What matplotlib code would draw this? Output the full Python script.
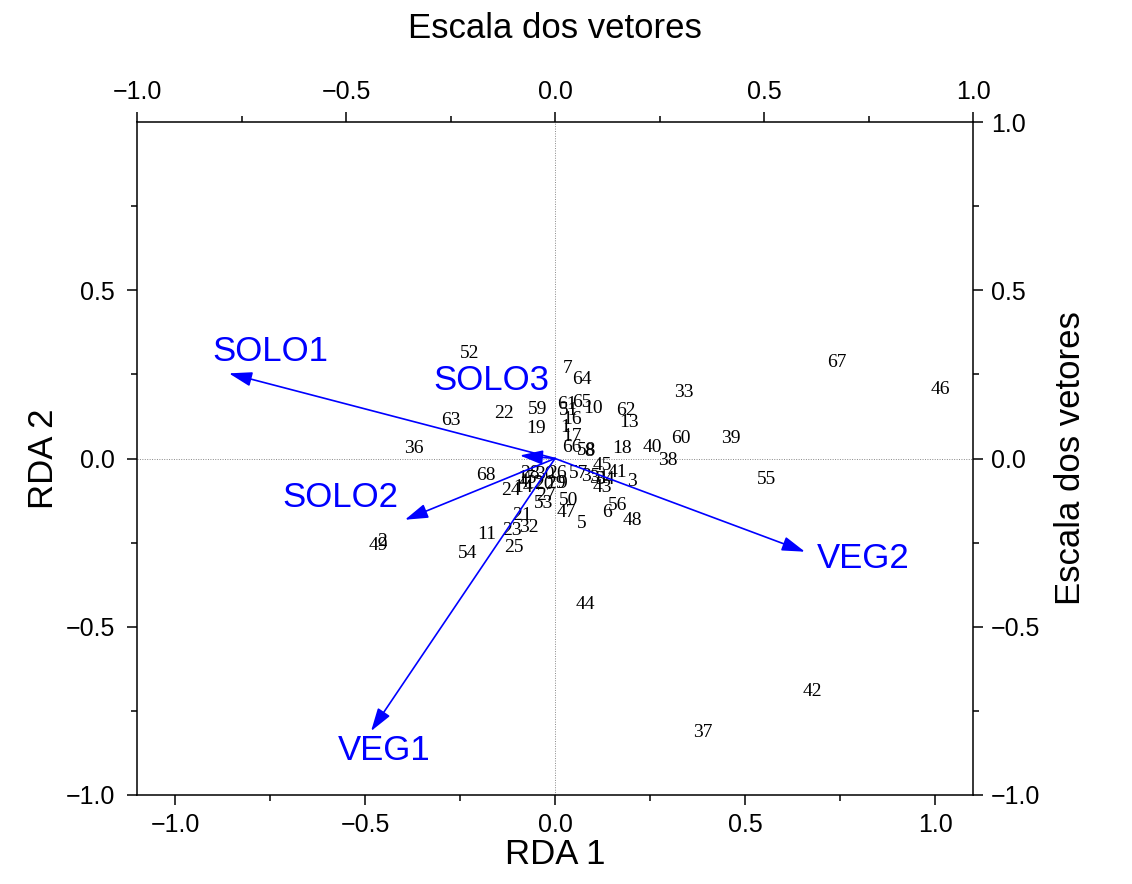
import matplotlib
matplotlib.use("Agg")
import matplotlib.pyplot as plt
from matplotlib.ticker import FixedLocator

# ---- data: sample scores (RDA 1, RDA 2) ----
sample_ids = [1, 2, 3, 5, 6, 7, 10, 11, 13, 16, 17, 18, 19, 21, 22, 23, 24, 25,
              26, 27, 29, 32, 33, 36, 37, 38, 39, 40, 41, 42, 43, 44, 45, 46,
              47, 48, 49, 50, 51, 52, 53, 54, 55, 56, 57, 58, 59, 60, 61, 62,
              63, 64, 65, 66, 67, 68, 4, 12, 20, 28, 30, 15, 9, 8, 14, 31, 34, 35]
rda1 = [0.026, -0.456, 0.203, 0.069, 0.137, 0.032, 0.100, -0.179, 0.195, 0.045,
        0.045, 0.177, -0.050, -0.087, -0.135, -0.113, -0.116, -0.108, 0.005,
        -0.024, 0.003, -0.069, 0.340, -0.372, 0.390, 0.296, 0.462, 0.256, 0.164,
        0.678, 0.124, 0.079, 0.124, 1.013, 0.029, 0.203, -0.464, 0.037, 0.037,
        -0.224, -0.029, -0.230, 0.557, 0.164, 0.063, 0.082, -0.047, 0.332, 0.032,
        0.187, -0.274, 0.071, 0.071, 0.045, 0.741, -0.182,
        -0.084, -0.055, -0.029, -0.066, -0.026, -0.074, 0.018, 0.090, -0.085,
        0.115, 0.132, 0.095]
rda2 = [0.092, -0.247, -0.068, -0.193, -0.161, 0.268, 0.149, -0.226, 0.107, 0.116,
        0.065, 0.030, 0.089, -0.170, 0.134, -0.214, -0.095, -0.265, -0.045,
        -0.110, -0.074, -0.205, 0.196, 0.030, -0.813, -0.006, 0.060, 0.033, -0.042,
        -0.693, -0.086, -0.435, -0.021, 0.205, -0.161, -0.185, -0.259, -0.125, 0.143,
        0.313, -0.134, -0.283, -0.063, -0.140, -0.045, 0.024, 0.146, 0.060, 0.161,
        0.143, 0.113, 0.235, 0.167, 0.033, 0.286, -0.051,
        -0.071, -0.074, -0.077, -0.045, -0.048, -0.058, -0.074, 0.022, -0.085,
        -0.060, -0.062, -0.054]

# ---- data: environmental vectors (vector scale) ----
vec_names = ["SOLO1", "SOLO2", "SOLO3", "VEG1", "VEG2"]
vec_x = [-0.780, -0.359, -0.084, -0.440, 0.598]
vec_y = [0.253, -0.182, 0.009, -0.810, -0.277]
vec_label_x = [-0.682, -0.514, -0.153, -0.409, 0.737]
vec_label_y = [0.318, -0.116, 0.232, -0.869, -0.298]

bottom_ticks = [-1.0, -0.5, 0.0, 0.5, 1.0]
left_ticks = [-1.0, -0.5, 0.0, 0.5]
vec_ticks = [-1.0, -0.5, 0.0, 0.5, 1.0]
minor_ticks = [-0.75, -0.25, 0.25, 0.75]


def fmt(t):
    return f"{t:.1f}".replace("-", "\u2212")


plt.rcParams['font.family'] = ['Liberation Sans', 'DejaVu Sans']

fig = plt.figure(figsize=(11.32, 8.84), dpi=100)
pos = [137/1132, 1-795/884, (973-137)/1132, (795-122)/884]
ax = fig.add_axes(pos)
ax.set_xlim(-1.1, 1.1)
ax.set_ylim(-1.0, 1.0)

ax.axhline(0, color='#888888', ls=(0, (1, 1.5)), lw=0.7, zorder=0)
ax.axvline(0, color='#888888', ls=(0, (1, 1.5)), lw=0.7, zorder=0)

for sid, x, y in zip(sample_ids, rda1, rda2):
    ax.text(x, y, str(sid), ha='center', va='center', fontsize=14,
            family=['Liberation Serif', 'DejaVu Serif'], color='black')

ax.xaxis.set_major_locator(FixedLocator(bottom_ticks))
ax.xaxis.set_minor_locator(FixedLocator(minor_ticks))
ax.yaxis.set_major_locator(FixedLocator(left_ticks))
ax.yaxis.set_minor_locator(FixedLocator(minor_ticks))
ax.set_xticklabels([fmt(t) for t in bottom_ticks])
ax.set_yticklabels([fmt(t) for t in left_ticks])
ax.tick_params(which='major', direction='out', length=7, width=1.1, labelsize=18)
ax.tick_params(axis='x', which='major', pad=6)
ax.tick_params(axis='y', which='major', pad=9)
ax.tick_params(which='minor', direction='out', length=4, width=1.1)
for s in ax.spines.values():
    s.set_linewidth(1.1)
ax.set_xlabel("RDA 1", fontsize=25, labelpad=1)
ax.set_ylabel("RDA 2", fontsize=25, labelpad=4)

ax2 = fig.add_axes(pos, frameon=False)
ax2.set_xlim(-1.0, 1.0)
ax2.set_ylim(-1.0, 1.0)
ax2.patch.set_visible(False)
ax2.xaxis.tick_top()
ax2.yaxis.tick_right()
ax2.xaxis.set_label_position('top')
ax2.yaxis.set_label_position('right')
ax2.xaxis.set_major_locator(FixedLocator(vec_ticks))
ax2.xaxis.set_minor_locator(FixedLocator(minor_ticks))
ax2.yaxis.set_major_locator(FixedLocator(vec_ticks))
ax2.yaxis.set_minor_locator(FixedLocator(minor_ticks))
ax2.set_xticklabels([fmt(t) for t in vec_ticks])
ax2.set_yticklabels([fmt(t) for t in vec_ticks])
ax2.tick_params(which='major', direction='out', length=7, width=1.1, labelsize=18, pad=6)
ax2.tick_params(which='minor', direction='out', length=4, width=1.1)
ax2.set_xlabel("Escala dos vetores", fontsize=25, labelpad=30)
ax2.set_ylabel("Escala dos vetores", fontsize=25, labelpad=10)

for name, x, y, lx, ly in zip(vec_names, vec_x, vec_y, vec_label_x, vec_label_y):
    ax2.annotate('', xy=(x, y), xytext=(0, 0),
                 arrowprops=dict(arrowstyle='-|>,head_length=0.7,head_width=0.22',
                                 color='#0000FF', lw=1.2, mutation_scale=20,
                                 shrinkA=0, shrinkB=0))
    ax2.text(lx, ly, name, ha='center', va='center', fontsize=25, color='#0000FF')

fig.savefig("out.png", dpi=100, facecolor='white')
